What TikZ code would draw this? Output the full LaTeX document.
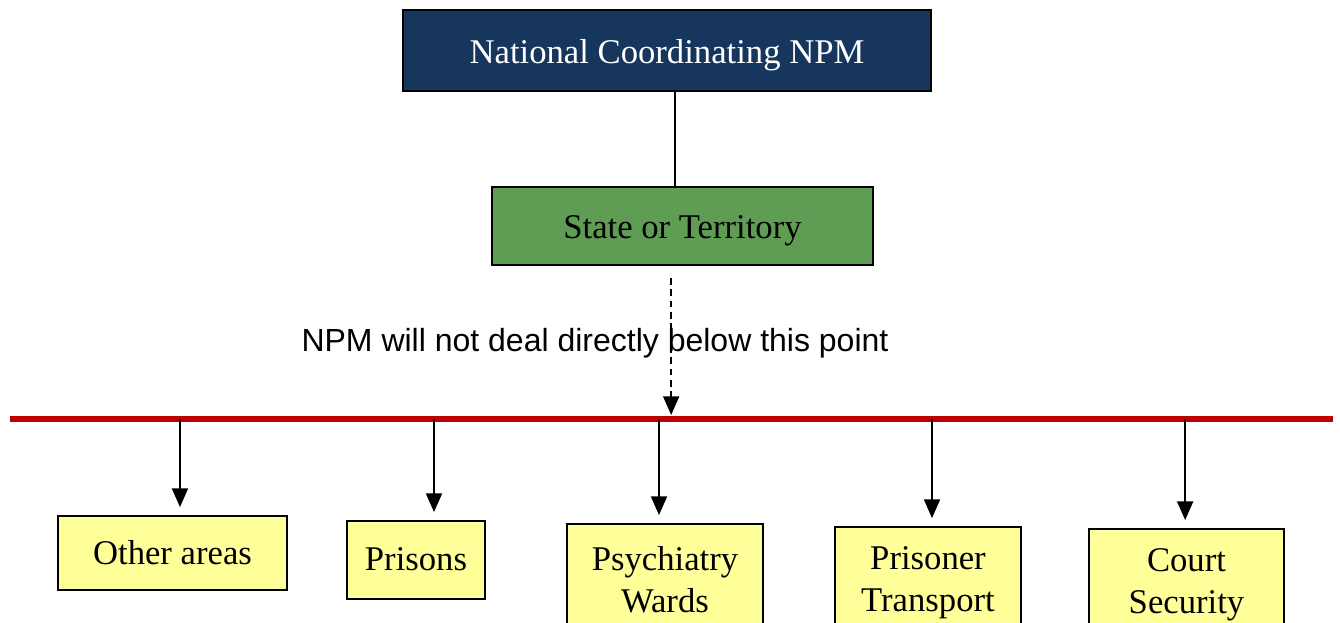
\documentclass[tikz,border=0pt]{standalone}
\usepackage{fontspec}
\setmainfont{Liberation Serif}
\newfontfamily\notefont{Liberation Sans}
\usepackage{xcolor}
\usetikzlibrary{arrows.meta,positioning}
\tikzset{>={Triangle[width=12pt,length=14pt]}}

\definecolor{npmnavy}{RGB}{23,54,93}
\definecolor{stategreen}{RGB}{95,157,85}
\definecolor{areayellow}{RGB}{255,255,153}
\definecolor{barred}{RGB}{192,0,0}

\begin{document}
\begin{tikzpicture}[x=0.75pt,y=-0.75pt,
                    box/.style={draw=black, line width=1.4pt, inner sep=0pt, align=center,
                                font=\fontsize{26}{31.5}\selectfont},
                    navybox/.style={box, fill=npmnavy, text=white, text height=19.5pt, text depth=0pt},
                    greenbox/.style={box, fill=stategreen, text height=19.5pt, text depth=0pt},
                    areabox/.style={box, fill=areayellow},
                    link/.style={line width=1.3pt, black},
                    bar/.style={line width=4.5pt, barred},
                   ]

\useasboundingbox (0,0) rectangle (1340,623);
\clip (0,0) rectangle (1340,623);

% top levels
\node[navybox, minimum width=396pt, minimum height=60.75pt] (npm) at (667,50.5) {National Coordinating NPM};
\node[greenbox, minimum width=285.75pt, minimum height=58.5pt] (state) at (682.5,226) {State or Territory};

\draw[link] ([xshift=6pt]npm.south) -- ([xshift=6pt]npm.south |- state.north);

% the line below which the NPM does not deal
\coordinate (barL) at (10,419);
\coordinate (barR) at (1333,419);
\draw[bar] (barL) -- (barR);

\node[font=\notefont\fontsize{24}{28}\selectfont] (note) at (595,343) {NPM will not deal directly below this point};

\draw[link, dashed, dash pattern=on 5pt off 3.5pt, ->, shorten >=3pt]
    ([xshift=-8.5pt,yshift=-9pt]state.south) -- ([xshift=-8.5pt]state.south |- barL);

% areas
\node[areabox, minimum width=171.75pt, minimum height=55.5pt] (other) at (172.5,553) {Other areas};
\node[areabox, minimum width=103.5pt, minimum height=58.5pt, text depth=2pt] (prisons) at (416,560) {Prisons};
\node[areabox, minimum width=147pt, minimum height=84pt] (psych) at (665,580) {Psychiatry\\Wards};
\node[areabox, minimum width=139.5pt, minimum height=84pt] (transport) at (928,583) {Prisoner\\Transport};
\node[areabox, minimum width=146.25pt, minimum height=84pt] (court) at (1186.5,585) {Court\\Security};

\foreach \n/\dx in {other/5.6pt, prisons/13.5pt, psych/-4.5pt, transport/3pt, court/-1pt}
    \draw[link, ->, shorten >=6pt] ([xshift=\dx]\n.north |- barL) -- ([xshift=\dx]\n.north);

\end{tikzpicture}
\end{document}
